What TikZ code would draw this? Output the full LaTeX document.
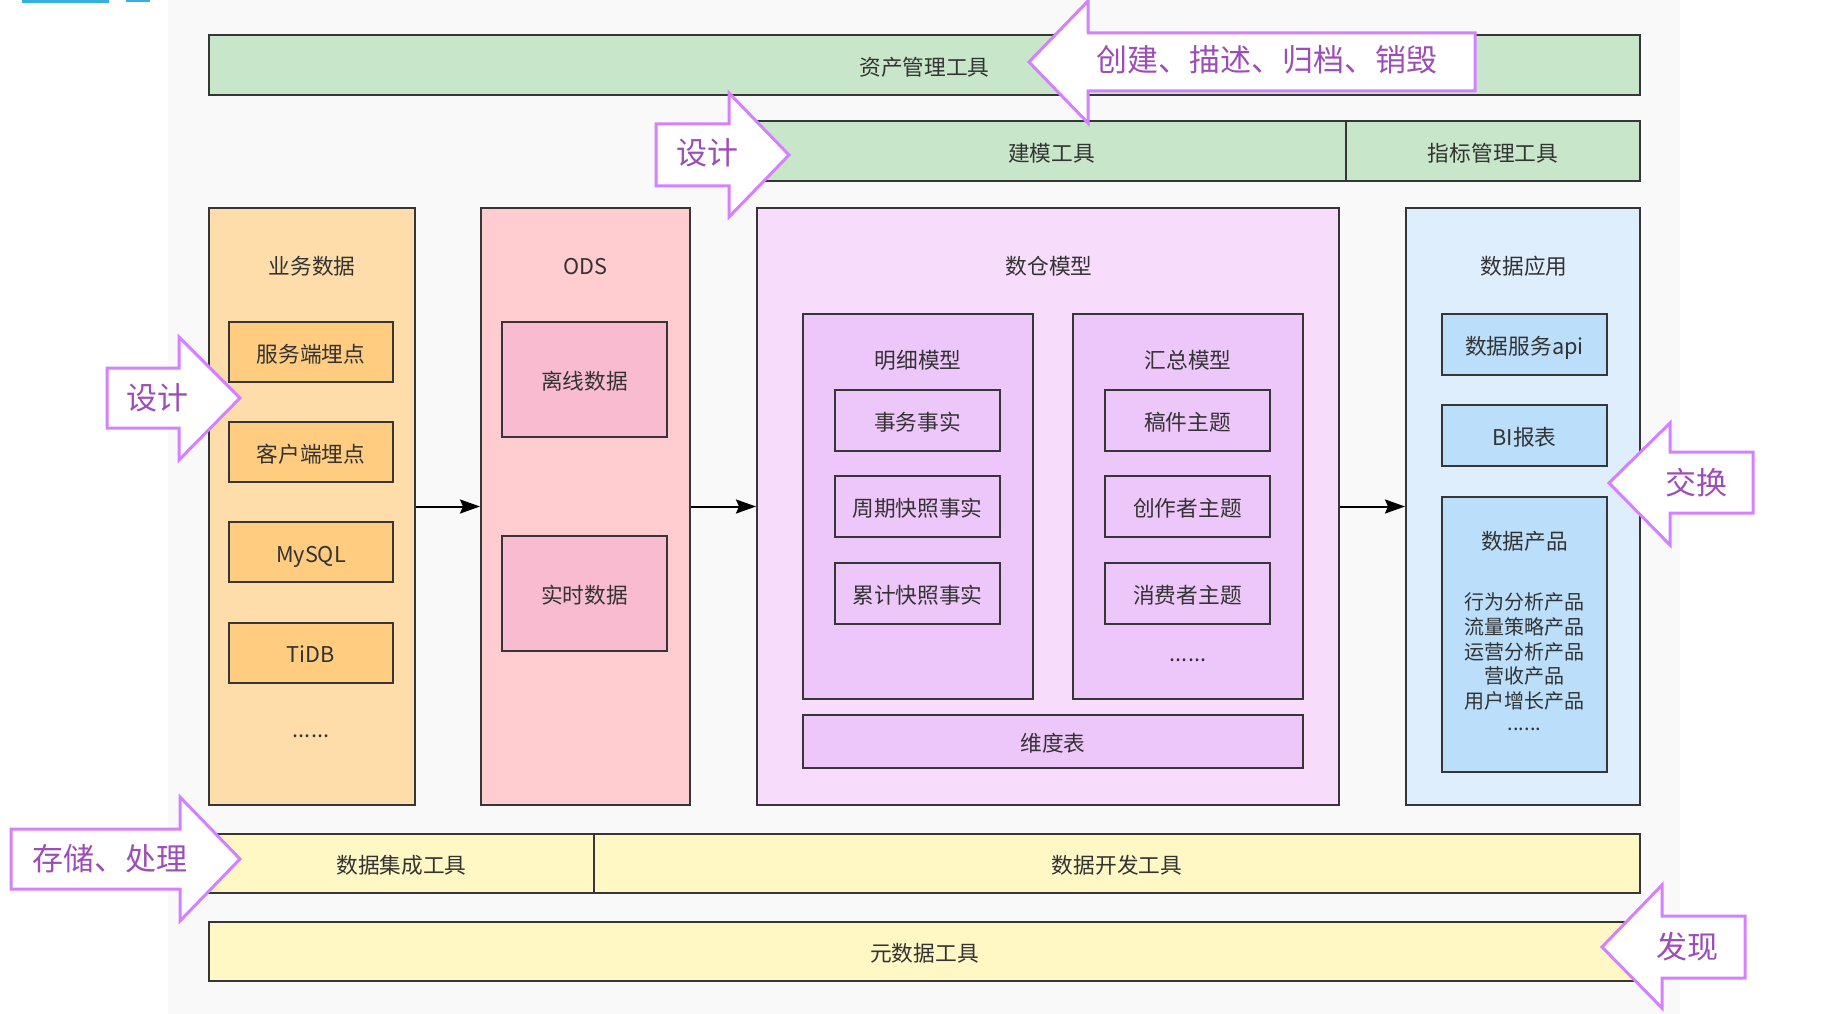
\documentclass[tikz,border=0pt]{standalone}
\usepackage{fontspec}
\setmainfont{Noto Sans CJK SC}
\usetikzlibrary{arrows.meta}
\definecolor{linec}{HTML}{363636}
\definecolor{txt}{HTML}{333333}
\definecolor{calc}{HTML}{D580FF}
\definecolor{callt}{HTML}{9C4DB6}
\definecolor{bgg}{HTML}{F9F9F9}
\definecolor{blueb}{HTML}{35AEE3}
\definecolor{greenf}{HTML}{C8E6C9}
\definecolor{bizf}{HTML}{FFDDAA}
\definecolor{bizi}{HTML}{FFCC80}
\definecolor{odsf}{HTML}{FFCCD0}
\definecolor{odsi}{HTML}{F8BBD0}
\definecolor{dwf}{HTML}{F7DCFC}
\definecolor{dwi}{HTML}{EDC6FA}
\definecolor{appf}{HTML}{DFEEFD}
\definecolor{appi}{HTML}{BBDEFA}
\definecolor{yelf}{HTML}{FFF8C5}
\newcommand\lblfont{\fontsize{21.7}{26}\selectfont}
\newcommand\listfont{\fontsize{20}{24.7}\selectfont}
\newcommand\callfont{\fontsize{31}{37}\selectfont}
\tikzset{
  box/.style={draw=linec, line width=2pt, text=txt, font=\lblfont, inner sep=0pt, text height=22pt, text depth=1.6pt},
  lbl/.style={text=txt, font=\lblfont, inner sep=0pt, text height=22pt, text depth=1.6pt},
  dots/.style={text=txt, font=\lblfont, inner sep=0pt, anchor=base},
  plistst/.style={text=txt, font=\listfont, inner sep=0pt, align=center},
  conn/.style={draw=black, line width=2pt, -{Stealth[length=20pt,width=14pt,inset=3pt]}},
  calloutarrow/.style={draw=calc, line width=3pt, fill=white, line join=miter},
  ctext/.style={text=callt, font=\callfont, inner sep=0pt},
}
\begin{document}
\begin{tikzpicture}[x=1pt,y=-1pt]
\useasboundingbox (0,0) rectangle (1832,1014);
\fill[white] (0,0) rectangle (1832,1014);
\fill[bgg] (168,0) rectangle (1680,1014);
\fill[blueb] (22,0) rectangle (109,3);
\fill[blueb] (126,0) rectangle (150,2);

% top bars
\node[box, fill=greenf, minimum width=1431pt, minimum height=60pt] (asset) at (924.5,65) {资产管理工具};
\node[box, fill=greenf, minimum width=589pt, minimum height=60pt] (modeltool) at (1051.5,151) {建模工具};
\node[box, fill=greenf, minimum width=294pt, minimum height=60pt] (metric) at (1493,151) {指标管理工具};

% columns
\node[box, fill=bizf, minimum width=206pt, minimum height=597pt] (biz) at (312,506.5) {};
\node[box, fill=odsf, minimum width=209pt, minimum height=597pt] (ods) at (585.5,506.5) {};
\node[box, fill=dwf, minimum width=582pt, minimum height=597pt] (dw) at (1048,506.5) {};
\node[box, fill=appf, minimum width=234pt, minimum height=597pt] (app) at (1523,506.5) {};

\node[lbl] (tbiz) at (312,264) {业务数据};
\node[lbl] (tods) at (585.5,264) {ODS};
\node[lbl] (tdw) at (1049,264) {数仓模型};
\node[lbl] (tapp) at (1524,264) {数据应用};

% biz inner
\node[box, fill=bizi, minimum width=164pt, minimum height=60pt] (srv) at (311,352) {服务端埋点};
\node[box, fill=bizi, minimum width=164pt, minimum height=60pt] (cli) at (311,452) {客户端埋点};
\node[box, fill=bizi, minimum width=164pt, minimum height=60pt] (mysql) at (311,552) {MySQL};
\node[box, fill=bizi, minimum width=164pt, minimum height=60pt] (tidb) at (311,652.5) {TiDB};
\node[dots] (bizdots) at (311,737) {......};

% ods inner
\node[box, fill=odsi, minimum width=165pt, minimum height=115pt] (offline) at (584.5,379.5) {离线数据};
\node[box, fill=odsi, minimum width=165pt, minimum height=115pt] (realtime) at (584.5,593.5) {实时数据};

% dw inner
\node[box, fill=dwi, minimum width=230pt, minimum height=385pt] (detail) at (918,506.5) {};
\node[box, fill=dwi, minimum width=230pt, minimum height=385pt] (summary) at (1188,506.5) {};
\node[lbl] (tdetail) at (918,358) {明细模型};
\node[lbl] (tsummary) at (1188,358) {汇总模型};
\node[box, fill=dwi, minimum width=165pt, minimum height=61pt] (d1) at (917.5,420.5) {事务事实};
\node[box, fill=dwi, minimum width=165pt, minimum height=61pt] (d2) at (917.5,506.5) {周期快照事实};
\node[box, fill=dwi, minimum width=165pt, minimum height=61pt] (d3) at (917.5,593.5) {累计快照事实};
\node[box, fill=dwi, minimum width=165pt, minimum height=61pt] (s1) at (1187.5,420.5) {稿件主题};
\node[box, fill=dwi, minimum width=165pt, minimum height=61pt] (s2) at (1187.5,506.5) {创作者主题};
\node[box, fill=dwi, minimum width=165pt, minimum height=61pt] (s3) at (1187.5,593.5) {消费者主题};
\node[dots] (sdots) at (1188,661) {......};
\node[box, fill=dwi, minimum width=500pt, minimum height=53pt] (dim) at (1053,741.5) {维度表};

% app inner
\node[box, fill=appi, minimum width=165pt, minimum height=61pt] (api) at (1524.5,344.5) {数据服务api};
\node[box, fill=appi, minimum width=165pt, minimum height=61pt] (bi) at (1524.5,435.5) {BI报表};
\node[box, fill=appi, minimum width=165pt, minimum height=275pt] (prod) at (1524.5,634.5) {};
\node[lbl] (tprod) at (1524.5,539) {数据产品};
\node[plistst] (plist) at (1524.5,651.5) {行为分析产品\\流量策略产品\\运营分析产品\\营收产品\\用户增长产品};
\node[dots, font=\listfont] (pdots) at (1524.5,730) {......};

% bottom bars
\node[box, fill=yelf, minimum width=385pt, minimum height=59pt] (integ) at (401.5,863.5) {数据集成工具};
\node[box, fill=yelf, minimum width=1046pt, minimum height=59pt] (dev) at (1117,863.5) {数据开发工具};
\node[box, fill=yelf, minimum width=1431pt, minimum height=59pt] (meta) at (924.5,951.5) {元数据工具};

% connectors
\draw[conn] (biz) -- (ods);
\draw[conn] (ods) -- (dw);
\draw[conn] (dw) -- (app);

% callout arrows
\draw[calloutarrow] (1029,62) -- (1088,1) -- (1088,33) -- (1475,33) -- (1475,91) -- (1088,91) -- (1088,123) -- cycle;
\node[ctext] (c1) at (1267,60) {创建、描述、归档、销毁};

\draw[calloutarrow] (789,155) -- (729,93) -- (729,124) -- (656,124) -- (656,186) -- (729,186) -- (729,217) -- cycle;
\node[ctext] (c2) at (707,153) {设计};

\draw[calloutarrow] (240,398) -- (179,337) -- (179,368) -- (107,368) -- (107,428) -- (179,428) -- (179,460) -- cycle;
\node[ctext] (c3) at (157,398) {设计};

\draw[calloutarrow] (1609,483) -- (1670,423) -- (1670,452) -- (1753,452) -- (1753,513) -- (1670,513) -- (1670,545) -- cycle;
\node[ctext] (c4) at (1696,483) {交换};

\draw[calloutarrow] (240,859) -- (180,797) -- (180,829) -- (11,829) -- (11,889) -- (180,889) -- (180,921) -- cycle;
\node[ctext] (c5) at (110,859) {存储、处理};

\draw[calloutarrow] (1602,947) -- (1662,885) -- (1662,916) -- (1745,916) -- (1745,978) -- (1662,978) -- (1662,1008) -- cycle;
\node[ctext] (c6) at (1687,947) {发现};
\end{tikzpicture}
\end{document}
